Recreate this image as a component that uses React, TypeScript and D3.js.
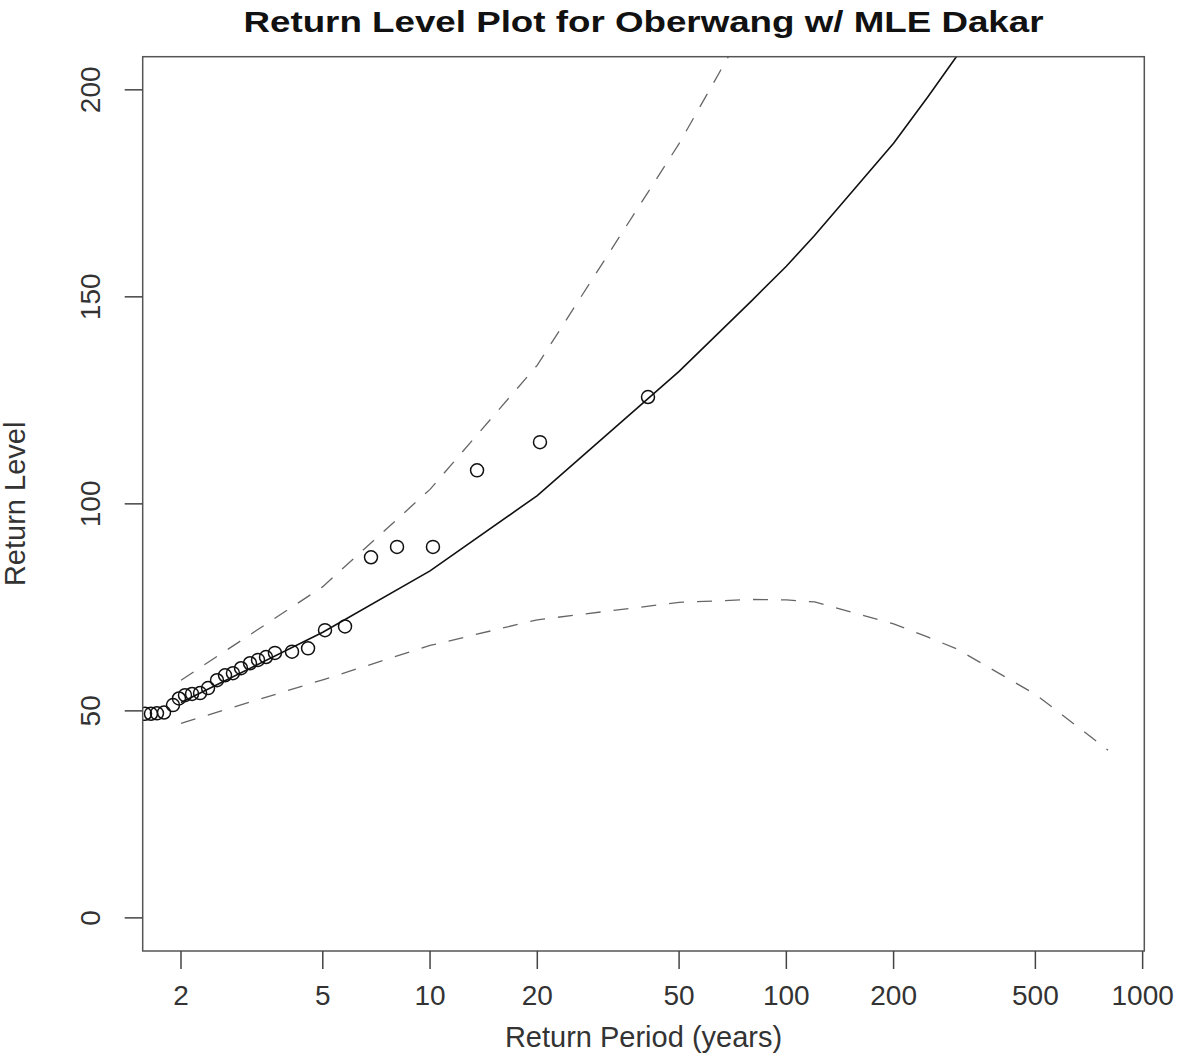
import React from "react";
import * as d3 from "d3";

const returnPeriods = [2, 5, 10, 20, 50, 80, 100, 120, 200, 250, 300, 500, 800];
const returnLevel = [52, 69, 83.8, 102, 132, 149.1, 157.4, 164.8, 187.1, 198.4, 208, 238, 271];
const upperCI = [57.4, 80, 103.5, 133.5, 187, 218, 232, 243, 280, 298, 313, 360, 405];
const lowerCI = [47, 57.5, 65.8, 72, 76.2, 76.9, 76.8, 76.3, 71, 67.8, 65, 54, 40.5];

const empPeriods = [1.585, 1.647, 1.712, 1.792, 1.899, 1.974, 2.052, 2.148, 2.262, 2.382, 2.524, 2.658, 2.798, 2.948, 3.124, 3.29, 3.464, 3.67, 4.098, 4.546, 5.072, 5.772, 6.828, 8.078, 10.19, 13.55, 20.35, 40.9];
const empLevels = [49.3, 49.3, 49.4, 49.6, 51.4, 53.0, 53.8, 54.1, 54.3, 55.5, 57.4, 58.6, 59.1, 60.3, 61.5, 62.3, 63.0, 64.0, 64.3, 65.1, 69.5, 70.4, 87.1, 89.6, 89.6, 108.1, 114.9, 125.8];

const xTicks = [2, 5, 10, 20, 50, 100, 200, 500, 1000];
const yTicks = [0, 50, 100, 150, 200];

const titleText = "Return Level Plot for Oberwang w/ MLE Dakar";
const xLabel = "Return Period (years)";
const yLabel = "Return Level";

const W = 1181;
const H = 1061;
const left = 142.7;
const right = 1144.3;
const top = 56.7;
const bottom = 951;

export default function App() {
  const x = d3.scaleLog().domain([1.5614, 1010.8]).range([left, right]);
  const y = d3.scaleLinear().domain([-8, 208]).range([bottom, top]);

  const mk = (vals: number[]) =>
    d3
      .line<number>()
      .x((_, i) => x(returnPeriods[i]))
      .y((d) => y(d))(vals) || "";

  const font = "'Liberation Sans', Arial, Helvetica, sans-serif";
  const axisColor = "#444";

  return (
    <svg
      width={W}
      height={H}
      style={{ position: "absolute", left: 0, top: 0, background: "#fff" }}
      fontFamily={font}
    >
      <defs>
        <clipPath id="plotclip">
          <rect x={left} y={top} width={right - left} height={bottom - top} />
        </clipPath>
      </defs>
      <rect x={0} y={0} width={W} height={H} fill="#fff" />

      <text
        x={(left + right) / 2}
        y={32}
        textAnchor="middle"
        fontWeight="bold"
        fontSize={29}
        fill="#111"
        textLength={800}
        lengthAdjust="spacingAndGlyphs"
      >
        {titleText}
      </text>

      <g clipPath="url(#plotclip)">
        <path d={mk(upperCI)} fill="none" stroke="#666" strokeWidth={1.3} strokeDasharray="15 13" />
        <path d={mk(lowerCI)} fill="none" stroke="#666" strokeWidth={1.3} strokeDasharray="15 13" />
        <path d={mk(returnLevel)} fill="none" stroke="#111" strokeWidth={1.6} />
        {empPeriods.map((t, i) => (
          <circle key={i} cx={x(t)} cy={y(empLevels[i])} r={6.5} fill="none" stroke="#111" strokeWidth={1.5} />
        ))}
      </g>

      <rect x={left} y={top} width={right - left} height={bottom - top} fill="none" stroke="#555" strokeWidth={1.5} />

      {xTicks.map((t) => (
        <g key={t}>
          <line x1={x(t)} x2={x(t)} y1={bottom} y2={bottom + 18} stroke={axisColor} strokeWidth={1.5} />
          <text x={x(t)} y={1005} textAnchor="middle" fontSize={28} fill="#333">
            {t}
          </text>
        </g>
      ))}
      {yTicks.map((v) => (
        <g key={v}>
          <line x1={left - 18} x2={left} y1={y(v)} y2={y(v)} stroke={axisColor} strokeWidth={1.5} />
          <text
            transform={`translate(100,${y(v)}) rotate(-90)`}
            textAnchor="middle"
            fontSize={28}
            fill="#333"
          >
            {v}
          </text>
        </g>
      ))}

      <text x={(left + right) / 2} y={1047} textAnchor="middle" fontSize={29} fill="#333">
        {xLabel}
      </text>
      <text
        transform={`translate(25,${(top + bottom) / 2}) rotate(-90)`}
        textAnchor="middle"
        fontSize={29}
        fill="#333"
      >
        {yLabel}
      </text>
    </svg>
  );
}
